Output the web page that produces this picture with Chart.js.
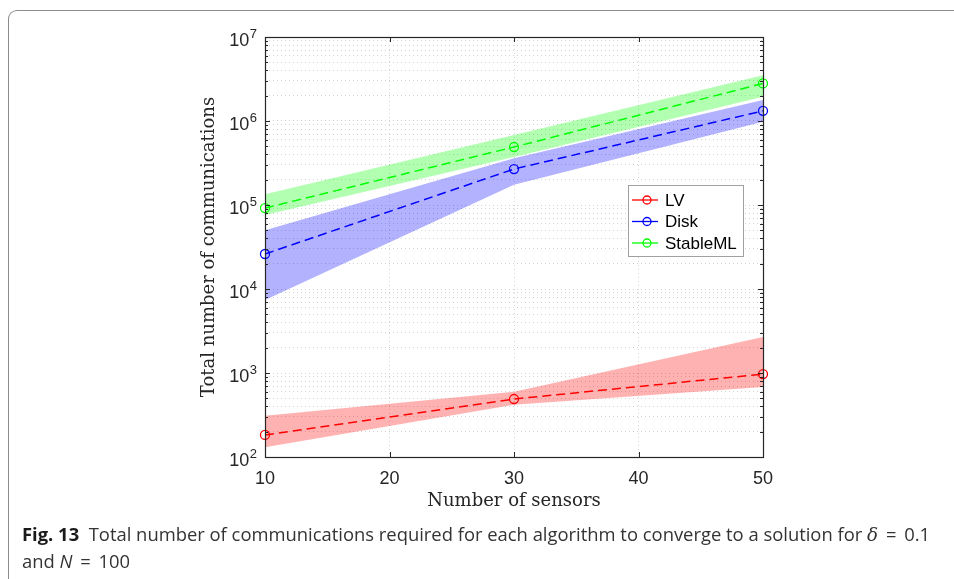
<!DOCTYPE html>
<html>
<head>
<meta charset="utf-8">
<script src="https://cdn.jsdelivr.net/npm/chart.js@4.4.1/dist/chart.umd.min.js"></script>
<style>
  html, body { margin: 0; padding: 0; background: #fff; }
  #wrap { position: relative; width: 954px; height: 579px; overflow: hidden; }
  #frame { position: absolute; left: 8px; top: 10px; width: 1000px; height: 700px;
           border-left: 1.5px solid #8c8c8c; border-top: 1.5px solid #8c8c8c; border-top-left-radius: 9px; }
  #chart { position: absolute; left: 0; top: 0; }
  #caption { position: absolute; left: 22px; top: 521px; width: 925px; font-family: 'Open Sans', sans-serif;
             font-size: 18.4px; line-height: 26px; color: #333; white-space: nowrap; }
  #caption b { color: #1a1a1a; }
  .m { font-family: 'DejaVu Serif', serif; font-style: italic; }
  .n { font-style: italic; }
  .eq { padding: 0 3px; }
</style>
</head>
<body>
<div id="wrap">
  <div id="frame"></div>
  <canvas id="chart" width="954" height="579"></canvas>
  <div id="caption"><b>Fig. 13</b>&nbsp; Total number of communications required for each algorithm to converge to a solution for <span class="m">δ</span> <span class="eq">=</span> 0.1<br>and <span class="n">N</span> <span class="eq">=</span> 100</div>
</div>
<script>
// values
const sensors = [10, 30, 50];

const lvMean = [183, 490, 970];
const lvUpper = [310, 600, 2680];
const lvLower = [131, 420, 680];

const diskMean = [26100, 268000, 1320000];
const diskUpper = [50000, 360000, 1780000];
const diskLower = [7400, 174000, 980000];

const stableMean = [92000, 490000, 2800000];
const stableUpper = [134000, 680000, 3500000];
const stableLower = [76000, 372000, 1950000];

const seriesNames = ['LV', 'Disk', 'StableML'];
const seriesColors = ['#ff0000', '#0000ff', '#00ff00'];
const bandColors = ['rgba(255,0,0,0.3)', 'rgba(0,0,255,0.3)', 'rgba(0,255,0,0.3)'];

const xTicks = [10, 20, 30, 40, 50];
const yDecades = [2, 3, 4, 5, 6, 7];

const textColor = '#262626';
const tickFont = 'Liberation Sans';
const titleFont = 'DejaVu Serif';

function pts(ys) {
    return sensors.map((x, i) => ({x: x, y: ys[i]}));
}

const means = [lvMean, diskMean, stableMean];
const uppers = [lvUpper, diskUpper, stableUpper];
const lowers = [lvLower, diskLower, stableLower];

const datasets = [];
means.forEach((m, i) => {
    datasets.push({
        label: seriesNames[i],
        data: pts(m),
        borderColor: seriesColors[i],
        borderWidth: 1.5,
        borderDash: [9, 5],
        pointStyle: 'circle',
        pointRadius: 4.5,
        pointBorderWidth: 1.3,
        pointBorderColor: seriesColors[i],
        pointBackgroundColor: 'rgba(0,0,0,0)',
        fill: false,
        clip: false
    });
});
uppers.forEach((u, i) => {
    datasets.push({
        label: seriesNames[i] + ' upper',
        data: pts(u),
        borderWidth: 0,
        pointRadius: 0,
        backgroundColor: bandColors[i],
        fill: '+1'
    });
    datasets.push({
        label: seriesNames[i] + ' lower',
        data: pts(lowers[i]),
        borderWidth: 0,
        pointRadius: 0,
        fill: false
    });
});

// axis box, inward ticks, y labels with exponents, legend
const decorations = {
    id: 'decorations',
    afterDraw(chart) {
        const ctx = chart.ctx;
        const a = chart.chartArea;
        const xs = chart.scales.x;
        const ys = chart.scales.y;
        ctx.save();
        ctx.strokeStyle = textColor;
        ctx.lineWidth = 1;
        ctx.setLineDash([]);
        ctx.beginPath();
        ys.ticks.forEach(t => {
            const y = Math.round(ys.getPixelForValue(t.value)) + 0.5;
            const len = t.major ? 5 : 3;
            ctx.moveTo(a.left, y); ctx.lineTo(a.left + len, y);
            ctx.moveTo(a.right, y); ctx.lineTo(a.right - len, y);
        });
        xTicks.forEach(v => {
            const x = Math.round(xs.getPixelForValue(v)) + 0.5;
            ctx.moveTo(x, a.bottom); ctx.lineTo(x, a.bottom - 5);
            ctx.moveTo(x, a.top); ctx.lineTo(x, a.top + 5);
        });
        ctx.stroke();
        ctx.lineWidth = 1.2;
        ctx.strokeRect(a.left + 0.5, a.top + 0.5, a.right - a.left, a.bottom - a.top);

        // y tick labels as 10^k
        ctx.fillStyle = textColor;
        ctx.textBaseline = 'alphabetic';
        yDecades.forEach(k => {
            const y = ys.getPixelForValue(Math.pow(10, k));
            ctx.font = '13px "' + tickFont + '"';
            const ex = String(k);
            const ew = ctx.measureText(ex).width;
            const right = a.left - 8;
            ctx.textAlign = 'left';
            ctx.fillText(ex, right - ew, y + 1);
            ctx.font = '18px "' + tickFont + '"';
            ctx.textAlign = 'right';
            ctx.fillText('10', right - ew - 0.5, y + 9);
        });

        // legend
        const lx = 628, ly = 185, lw = 115, lh = 71;
        ctx.fillStyle = '#fff';
        ctx.fillRect(lx, ly, lw, lh);
        ctx.strokeStyle = '#a0a0a0';
        ctx.lineWidth = 1;
        ctx.strokeRect(lx + 0.5, ly + 0.5, lw, lh);
        ctx.font = '17px "' + tickFont + '"';
        ctx.textAlign = 'left';
        ctx.textBaseline = 'middle';
        seriesNames.forEach((name, i) => {
            const y = ly + 15 + i * 21.5;
            ctx.strokeStyle = seriesColors[i];
            ctx.lineWidth = 1.3;
            ctx.beginPath();
            ctx.moveTo(lx + 4, y); ctx.lineTo(lx + 30, y);
            ctx.stroke();
            ctx.beginPath();
            ctx.arc(lx + 19, y, 4, 0, Math.PI * 2);
            ctx.stroke();
            ctx.fillStyle = '#000';
            ctx.fillText(name, lx + 37, y + 1);
        });
        ctx.restore();
    }
};

new Chart(document.getElementById('chart'), {
    type: 'line',
    data: {datasets: datasets},
    options: {
        responsive: false,
        animation: false,
        devicePixelRatio: 1,
        layout: {padding: {left: 199, top: 37, right: 191, bottom: 67}},
        plugins: {
            legend: {display: false},
            tooltip: {enabled: false}
        },
        scales: {
            x: {
                type: 'linear',
                min: 10,
                max: 50,
                afterBuildTicks: s => { s.ticks = xTicks.map(v => ({value: v})); },
                afterFit: s => { s.height = 55; },
                ticks: {
                    color: textColor,
                    padding: 11,
                    font: {family: tickFont, size: 18}
                },
                grid: {color: '#d2d2d2', lineWidth: 1, drawTicks: false},
                border: {display: false, dash: [1, 3]},
                title: {
                    display: true,
                    text: 'Number of sensors',
                    color: textColor,
                    padding: 0,
                    font: {family: titleFont, size: 18}
                }
            },
            y: {
                type: 'logarithmic',
                min: 100,
                max: 1e7,
                afterBuildTicks: s => {
                    const t = [];
                    yDecades.forEach(k => {
                        const base = Math.pow(10, k);
                        t.push({value: base, major: true});
                        if (k < yDecades[yDecades.length - 1]) {
                            for (let m = 2; m <= 9; m++) t.push({value: m * base, major: false});
                        }
                    });
                    s.ticks = t;
                },
                afterFit: s => { s.width = 66; },
                ticks: {display: false},
                grid: {color: '#d2d2d2', lineWidth: 1, drawTicks: false},
                border: {display: false, dash: [1, 3]},
                title: {
                    display: true,
                    text: 'Total number of communications',
                    color: textColor,
                    padding: 0,
                    font: {family: titleFont, size: 18}
                }
            }
        }
    },
    plugins: [decorations]
});
</script>
</body>
</html>
